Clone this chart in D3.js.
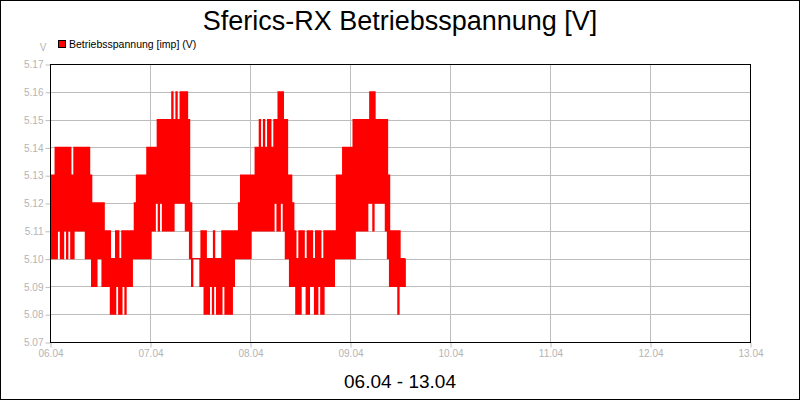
<!DOCTYPE html>
<html><head><meta charset="utf-8">
<script src="https://cdn.jsdelivr.net/npm/d3@7/dist/d3.min.js"></script>
<style>html,body{margin:0;padding:0;background:#fff;}svg{display:block;}</style>
</head><body>
<svg id="chart" width="800" height="400"></svg>
<script>
const title = "Sferics-RX Betriebsspannung [V]";
const seriesName = "Betriebsspannung [imp] (V)";
const yUnit = "V";
const xTitle = "06.04 - 13.04";
const xTickLabels = ["06.04","07.04","08.04","09.04","10.04","11.04","12.04","13.04"];
const yTicks = [5.07,5.08,5.09,5.10,5.11,5.12,5.13,5.14,5.15,5.16,5.17];
const sampleMinutes = 30;
// upper value within each 30-minute sample
const highs = [
5.13,5.13,5.14,5.14,5.14,5.14,5.14,5.14,5.14,5.14,
5.13,5.14,5.14,5.14,5.14,5.14,5.14,5.14,5.14,5.13,
5.12,5.12,5.12,5.12,5.12,5.12,5.11,5.11,5.11,5.10,
5.10,5.11,5.11,5.10,5.11,5.11,5.11,5.11,5.11,5.11,
5.12,5.13,5.13,5.13,5.13,5.13,5.14,5.14,5.14,5.14,
5.14,5.15,5.15,5.15,5.15,5.15,5.15,5.15,5.16,5.15,
5.16,5.15,5.16,5.16,5.16,5.16,5.15,5.12,5.10,5.10,
5.10,5.10,5.11,5.11,5.11,5.10,5.10,5.10,5.11,5.10,
5.10,5.10,5.11,5.11,5.11,5.11,5.11,5.11,5.11,5.11,
5.12,5.13,5.13,5.13,5.13,5.13,5.13,5.13,5.14,5.14,
5.15,5.14,5.15,5.14,5.15,5.15,5.14,5.15,5.15,5.16,
5.16,5.16,5.15,5.15,5.13,5.13,5.12,5.11,5.10,5.11,
5.11,5.11,5.10,5.11,5.11,5.11,5.10,5.11,5.11,5.11,
5.10,5.11,5.11,5.11,5.11,5.11,5.11,5.13,5.13,5.13,
5.14,5.14,5.14,5.14,5.14,5.15,5.15,5.15,5.15,5.15,
5.15,5.15,5.15,5.16,5.16,5.16,5.15,5.15,5.15,5.15,
5.15,5.15,5.13,5.11,5.11,5.11,5.11,5.11,5.10,5.10,
5.10];
// lower value within each 30-minute sample
const lows = [
5.10,5.10,5.10,5.10,5.11,5.10,5.10,5.11,5.10,5.11,
5.10,5.10,5.11,5.11,5.11,5.11,5.11,5.10,5.10,5.10,
5.09,5.09,5.09,5.10,5.10,5.09,5.09,5.09,5.09,5.08,
5.08,5.08,5.09,5.08,5.08,5.09,5.08,5.09,5.09,5.09,
5.10,5.10,5.10,5.10,5.10,5.10,5.10,5.10,5.10,5.11,
5.11,5.12,5.11,5.12,5.11,5.11,5.11,5.11,5.11,5.11,
5.12,5.12,5.12,5.12,5.12,5.11,5.11,5.10,5.09,5.10,
5.10,5.10,5.09,5.09,5.08,5.08,5.08,5.09,5.08,5.09,
5.08,5.08,5.08,5.09,5.08,5.08,5.08,5.08,5.09,5.10,
5.10,5.10,5.10,5.10,5.10,5.10,5.10,5.11,5.11,5.11,
5.11,5.11,5.11,5.11,5.11,5.11,5.11,5.11,5.12,5.11,
5.11,5.12,5.11,5.10,5.10,5.09,5.09,5.09,5.08,5.08,
5.08,5.09,5.09,5.08,5.08,5.09,5.09,5.08,5.08,5.09,
5.08,5.08,5.09,5.09,5.09,5.09,5.09,5.10,5.10,5.10,
5.10,5.10,5.10,5.10,5.10,5.10,5.10,5.11,5.11,5.11,
5.11,5.11,5.11,5.12,5.12,5.11,5.12,5.12,5.12,5.12,
5.12,5.11,5.10,5.09,5.09,5.09,5.09,5.08,5.09,5.09,
5.09];

const svg = d3.select("#chart");
const W = 800, H = 400;
const m = {left: 50, right: 50, top: 64, bottom: 58};
const parseDay = d3.timeParse("%d.%m.%Y");
const start = parseDay(xTickLabels[0] + ".2020");
const end = parseDay(xTickLabels[xTickLabels.length - 1] + ".2020");

const x = d3.scaleTime().domain([start, end]).range([m.left, W - m.right]);
const y = d3.scaleLinear().domain([yTicks[0], yTicks[yTicks.length - 1]]).range([H - m.bottom, m.top]);

// background + outer frame
svg.append("rect").attr("x", 0.5).attr("y", 0.5).attr("width", W - 1).attr("height", H - 1)
  .attr("fill", "#fff").attr("stroke", "#000").attr("stroke-width", 1);

const gridColor = "#bdbdbd";
const labelColor = "#b4b4b4";
const dayTicks = xTickLabels.map(t => parseDay(t + ".2020"));

// grid
svg.append("g").selectAll("line").data(yTicks).join("line")
  .attr("x1", m.left).attr("x2", W - m.right)
  .attr("y1", d => Math.round(y(d)) + 0.5).attr("y2", d => Math.round(y(d)) + 0.5)
  .attr("stroke", gridColor).attr("stroke-width", 1);
svg.append("g").selectAll("line").data(dayTicks).join("line")
  .attr("y1", m.top).attr("y2", H - m.bottom)
  .attr("x1", d => Math.round(x(d)) + 0.5).attr("x2", d => Math.round(x(d)) + 0.5)
  .attr("stroke", gridColor).attr("stroke-width", 1);

// axes
const yAxis = d3.axisLeft(y).tickValues(yTicks).tickFormat(d3.format(".2f")).tickSize(5).tickPadding(2);
const gy = svg.append("g").attr("transform", `translate(${m.left + 0.5},0.5)`).call(yAxis);
const xAxis = d3.axisBottom(x).tickValues(dayTicks).tickFormat(d3.timeFormat("%d.%m")).tickSize(5).tickPadding(2);
const gx = svg.append("g").attr("transform", `translate(0.5,${H - m.bottom + 0.5})`).call(xAxis);
[gx, gy].forEach(g => {
  g.select(".domain").remove();
  g.selectAll(".tick line").attr("stroke", gridColor);
  g.selectAll(".tick text").attr("fill", labelColor)
    .style("font-family", "'Liberation Sans', Arial, sans-serif").style("font-size", "10px");
});

// series: interleave low / high readings within each sample
const start0 = start.getTime();
const points = [];
highs.forEach((h, i) => {
  const t = start0 + i * sampleMinutes * 60000;
  points.push({t: new Date(t), v: lows[i]});
  points.push({t: new Date(t + sampleMinutes * 30000), v: h});
});
const line = d3.line().curve(d3.curveStepAfter).x(d => x(d.t)).y(d => y(d.v));
svg.append("path").datum(points).attr("d", line)
  .attr("fill", "none").attr("stroke", "#ff0000").attr("stroke-width", 1.3);

// plot frame
svg.append("rect").attr("x", m.left + 0.5).attr("y", Math.round(m.top) + 0.5)
  .attr("width", W - m.left - m.right).attr("height", H - m.top - m.bottom)
  .attr("fill", "none").attr("stroke", "#000").attr("stroke-width", 1);

// title
svg.append("text").attr("x", W / 2).attr("y", 30).attr("text-anchor", "middle")
  .style("font-family", "'Liberation Sans', Arial, sans-serif").style("font-size", "27px")
  .attr("fill", "#000").text(title);

// legend
svg.append("rect").attr("x", 58.5).attr("y", 40.5).attr("width", 7).attr("height", 7)
  .attr("fill", "#ff0000").attr("stroke", "#000").attr("stroke-width", 1);
svg.append("text").attr("x", 69).attr("y", 48)
  .style("font-family", "'Liberation Sans', Arial, sans-serif").style("font-size", "10.5px")
  .attr("fill", "#000").text(seriesName);

// y unit
svg.append("text").attr("x", 43).attr("y", 51).attr("text-anchor", "middle")
  .style("font-family", "'Liberation Sans', Arial, sans-serif").style("font-size", "10px")
  .attr("fill", labelColor).text(yUnit);

// x title
svg.append("text").attr("x", W / 2).attr("y", 388).attr("text-anchor", "middle")
  .style("font-family", "'Liberation Sans', Arial, sans-serif").style("font-size", "19px")
  .attr("fill", "#000").text(xTitle);
</script>
</body></html>
